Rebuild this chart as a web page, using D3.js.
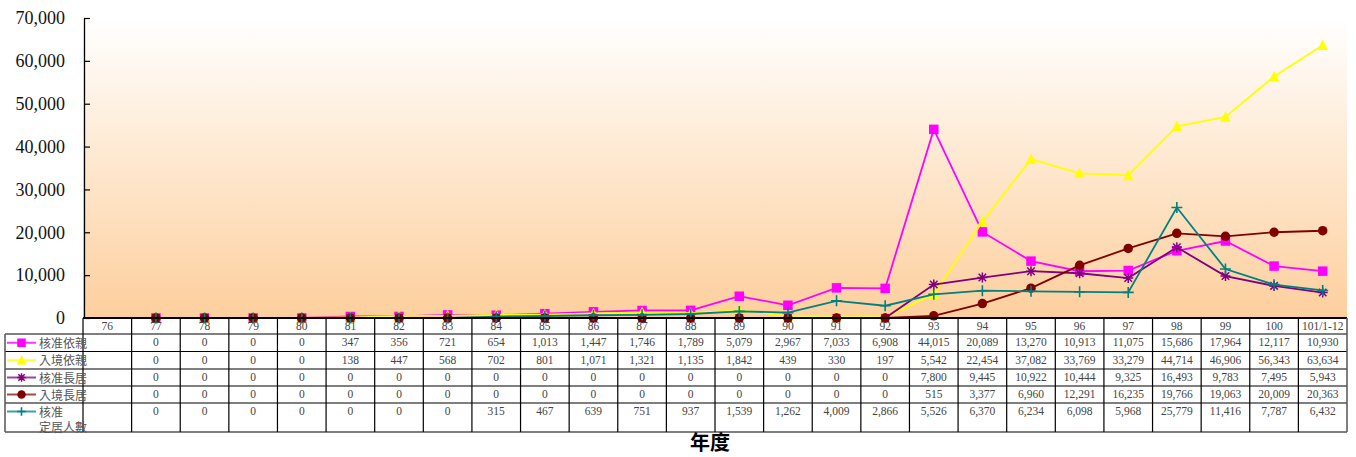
<!DOCTYPE html>
<html><head><meta charset="utf-8">
<script src="https://cdn.jsdelivr.net/npm/d3@7/dist/d3.min.js"></script>
<style>body{margin:0;background:#fff}svg{display:block}</style>
</head><body>
<svg id="c" width="1356" height="457"></svg>
<script>
const categories = ["76","77","78","79","80","81","82","83","84","85","86","87","88","89","90","91","92","93","94","95","96","97","98","99","100","101/1-12"];
const yTicks = [0,10000,20000,30000,40000,50000,60000,70000];
const seriesNames = ["核准依親","入境依親","核准長居","入境長居","核准\n定居人數"];
const s1 = [null,0,0,0,0,347,356,721,654,1013,1447,1746,1789,5079,2967,7033,6908,44015,20089,13270,10913,11075,15686,17964,12117,10930];
const s2 = [null,0,0,0,0,138,447,568,702,801,1071,1321,1135,1842,439,330,197,5542,22454,37082,33769,33279,44714,46906,56343,63634];
const s3 = [null,0,0,0,0,0,0,0,0,0,0,0,0,0,0,0,0,7800,9445,10922,10444,9325,16493,9783,7495,5943];
const s4 = [null,0,0,0,0,0,0,0,0,0,0,0,0,0,0,0,0,515,3377,6960,12291,16235,19766,19063,20009,20363];
const s5 = [null,0,0,0,0,0,0,0,315,467,639,751,937,1539,1262,4009,2866,5526,6370,6234,6098,5968,25779,11416,7787,6432];
const seriesValues = [s1,s2,s3,s4,s5];
const colors = ["#ff00ff","#ffff00","#800080","#800000","#008080"];
const legendColors = ["#ff33ff","#ffff33","#a040a0","#a04848","#40a0a0"];
const markers = ["square","triangle","asterisk","circle","plus"];

const svg = d3.select("#c");
const L=83, R=1347, T=18, B=318;
const x = d3.scaleBand().domain(categories).range([L,R]);
const y = d3.scaleLinear().domain([0,70000]).range([B,T]);
const fmt = d3.format(",");
const SERIF = "'Liberation Serif','Times New Roman',serif";

const defs = svg.append("defs");
const g = defs.append("linearGradient").attr("id","bg").attr("x1",0).attr("y1",0).attr("x2",0).attr("y2",1);
g.append("stop").attr("offset","0%").attr("stop-color","#ffffff");
g.append("stop").attr("offset","100%").attr("stop-color","#fdcf9d");
svg.append("rect").attr("x",L).attr("y",T).attr("width",R-L).attr("height",B-T).attr("fill","url(#bg)");

// y axis
const ax = svg.append("g").attr("transform",`translate(${L+1},0)`)
  .call(d3.axisLeft(y).tickValues(yTicks).tickFormat(fmt).tickSizeInner(-6).tickSizeOuter(0).tickPadding(19));
ax.attr("font-family",null).attr("font-size",null);
ax.select(".domain").attr("stroke","#000").attr("stroke-width",1.3);
ax.selectAll(".tick line").attr("stroke","#000").attr("stroke-width",1.2);
ax.selectAll(".tick text").style("font-family",SERIF).style("font-size","18px").attr("fill","#111");

function drawMarker(sel, type, color, size){
  const s=size/2;
  if(type==="square") sel.append("rect").attr("x",-s).attr("y",-s).attr("width",size).attr("height",size).attr("fill",color);
  else if(type==="triangle") sel.append("path").attr("d",`M0,${-s-1}L${s+0.5},${s}L${-s-0.5},${s}Z`).attr("fill",color);
  else if(type==="circle") sel.append("circle").attr("r",s).attr("fill",color);
  else if(type==="asterisk") sel.append("path").attr("d",`M${-s},0L${s},0M0,${-s}L0,${s}M${-s*0.75},${-s*0.75}L${s*0.75},${s*0.75}M${-s*0.75},${s*0.75}L${s*0.75},${-s*0.75}`).attr("stroke",color).attr("stroke-width",1.5).attr("fill","none");
  else if(type==="plus") sel.append("path").attr("d",`M${-s},0L${s},0M0,${-s}L0,${s}`).attr("stroke",color).attr("stroke-width",1.6).attr("fill","none");
}

const cx = c => x(c)+x.bandwidth()/2;
const line = d3.line().defined(d=>d.v!=null).x(d=>cx(d.c)).y(d=>y(d.v));
seriesValues.forEach((vals,i)=>{
  const data = categories.map((c,j)=>({c,v:vals[j]}));
  svg.append("path").datum(data).attr("d",line).attr("fill","none").attr("stroke",colors[i]).attr("stroke-width",1.8);
  data.filter(d=>d.v!=null).forEach(d=>{
    const m = svg.append("g").attr("transform",`translate(${cx(d.c)},${y(d.v)})`);
    drawMarker(m, markers[i], colors[i], i===4?11:(i===2?10:9.5));
  });
});

// bottom axis line
svg.append("line").attr("x1",L).attr("x2",R).attr("y1",B).attr("y2",B).attr("stroke","#000").attr("stroke-width",1.8);

// table
const rowY = [334,351.5,369,386,403,432];
const tg = svg.append("g");
categories.forEach(c=>{
  tg.append("text").attr("x",cx(c)).attr("y",330).attr("text-anchor","middle")
    .style("font-family",SERIF).style("font-size","11.5px").attr("fill","#444").text(c);
});
rowY.forEach(yy=>{
  tg.append("line").attr("x1",5).attr("x2",R).attr("y1",yy).attr("y2",yy).attr("stroke","#000").attr("stroke-width",1.2);
});
tg.append("line").attr("x1",5).attr("x2",5).attr("y1",334).attr("y2",432).attr("stroke","#555").attr("stroke-width",1.5);
categories.forEach(c=>{
  tg.append("line").attr("x1",x(c)).attr("x2",x(c)).attr("y1",B).attr("y2",432).attr("stroke","#000").attr("stroke-width",1.2);
});
tg.append("line").attr("x1",R).attr("x2",R).attr("y1",B).attr("y2",432).attr("stroke","#555").attr("stroke-width",1.5);

seriesValues.forEach((vals,i)=>{
  const ty = rowY[i] + 12;
  const my = i===4 ? rowY[i]+8.5 : (rowY[i]+rowY[i+1])/2;
  tg.append("line").attr("x1",7).attr("x2",36).attr("y1",my).attr("y2",my).attr("stroke",legendColors[i]).attr("stroke-width",2);
  const m = tg.append("g").attr("transform",`translate(21.5,${my})`);
  drawMarker(m, markers[i], colors[i], 8.5);
  const lines = seriesNames[i].split("\n");
  lines.forEach((ln,k)=>{
    tg.append("text").attr("x",39).attr("y",ty+1.5+k*15).style("font-family","'Noto Sans CJK TC',sans-serif").style("font-size","12px").attr("fill","#555").text(ln);
  });
  vals.forEach((v,j)=>{
    if(v==null) return;
    tg.append("text").attr("x",cx(categories[j])).attr("y",ty).attr("text-anchor","middle")
      .style("font-family",SERIF).style("font-size","11.5px").attr("fill","#444").text(fmt(v));
  });
});

svg.append("text").attr("x",710).attr("y",450).attr("text-anchor","middle")
  .style("font-family","'Noto Sans CJK TC',sans-serif").style("font-weight","bold").style("font-size","20px").attr("fill","#000").text("年度");
</script>
</body></html>
